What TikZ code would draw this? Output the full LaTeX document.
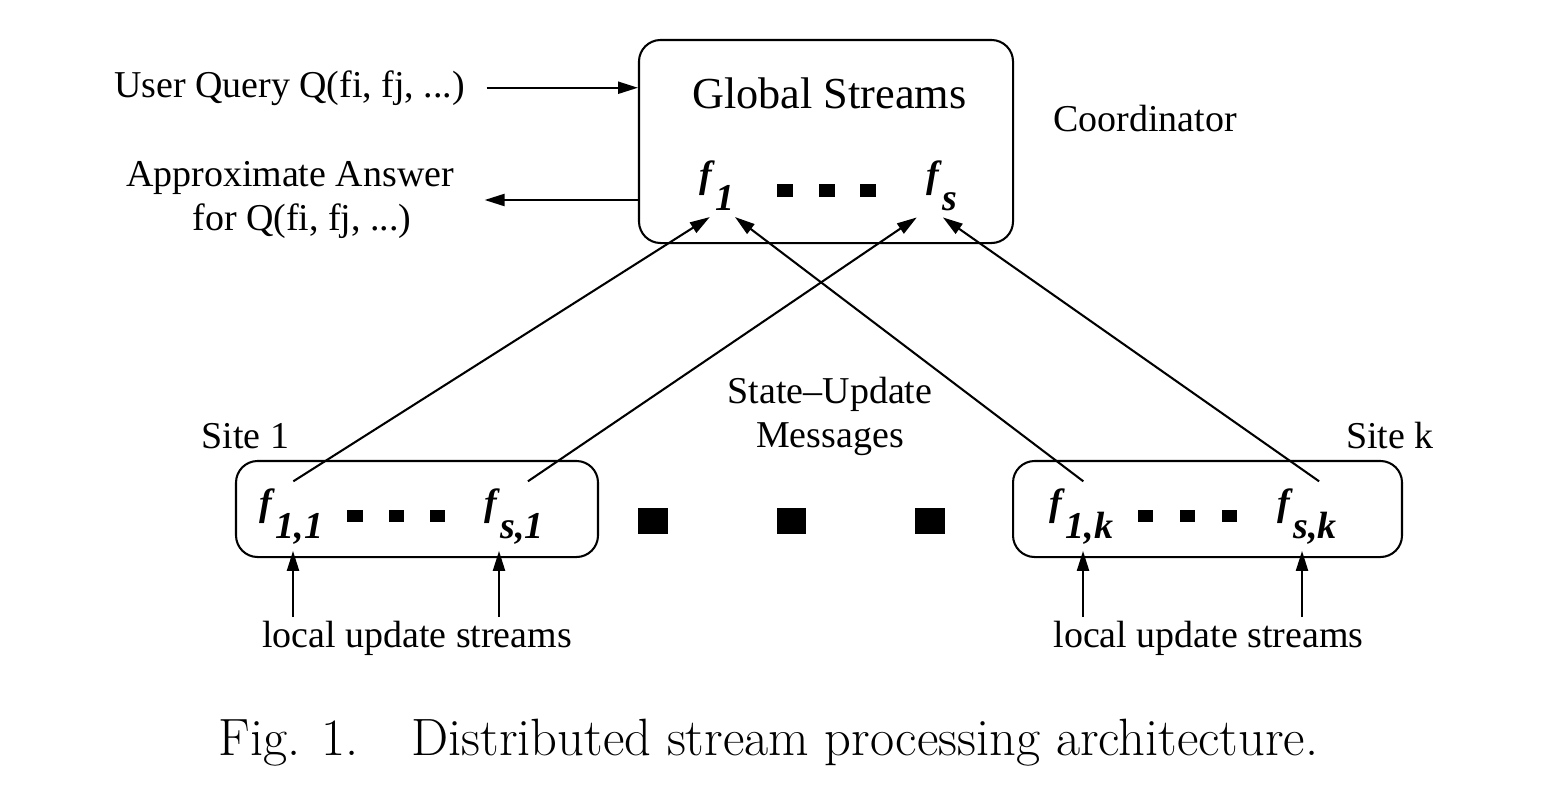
\documentclass[tikz,border=0pt]{standalone}
\usepackage{fontspec}
\newfontfamily\timesfont[Ligatures=TeX]{Liberation Serif}
\usetikzlibrary{arrows.meta}

\newcommand{\fsub}[1]{\textbf{\textit{f}}\raisebox{-7.3pt}{\textbf{\textit{#1}}}}

\tikzset{
  box/.style={draw, line width=0.65pt, rounded corners=2.4mm, inner sep=0pt},
  txt/.style={font=\timesfont\fontsize{12}{13.9}\selectfont, inner sep=0pt},
  flbl/.style={txt, inner sep=2pt, anchor=base},
  arr/.style={-{Triangle[length=6.3pt,width=3.8pt]}, line width=0.65pt},
  sdot/.style={fill, inner sep=0pt, minimum width=1.7mm, minimum height=1.3mm},
  bdot/.style={fill, inner sep=0pt, minimum width=3.3mm, minimum height=2.9mm}
}

\begin{document}
\begin{tikzpicture}[x=1.1111cm, y=1.1111cm]
    \useasboundingbox (0,0) rectangle (15.42,7.88);

    % coordinator and sites
    \node[box, minimum width=4.156cm, minimum height=2.256cm] (coord) at (8.26,6.465) {};
    \node[box, minimum width=4.022cm, minimum height=1.067cm] (site1) at (4.17,2.79) {};
    \node[box, minimum width=4.322cm, minimum height=1.067cm] (sitek) at (12.075,2.79) {};

    \node[txt, anchor=base, font=\timesfont\fontsize{14}{16}\selectfont] (glob) at (8.295,6.80) {Global Streams};
    \node[txt, anchor=base] (coordname) at (11.45,6.57) {Coordinator};
    \node[txt, anchor=base] (site1name) at (2.455,3.40) {Site 1};
    \node[txt, anchor=base] (sitekname) at (13.90,3.40) {Site k};
    \node[txt, align=center] (msg) at (8.30,3.72) {State--Update\\Messages};

    \node[flbl] (f1)  at (7.17,6.01)   {\fsub{1}};
    \node[flbl] (fs)  at (9.42,6.01)   {\fsub{s}};
    \node[flbl] (f11) at (2.915,2.73)  {\fsub{1,1}};
    \node[flbl] (fs1) at (5.144,2.73)  {\fsub{s,1}};
    \node[flbl] (f1k) at (10.815,2.73) {\fsub{1,k}};
    \node[flbl] (fsk) at (13.074,2.73) {\fsub{s,k}};

    \foreach \x [count=\i] in {7.85,8.27,8.68}
        \node[sdot, minimum width=1.8mm, minimum height=1.45mm] (cdot\i) at (\x,5.975) {};
    \foreach \x [count=\i] in {3.55,3.965,4.375}
        \node[sdot] (adot\i) at (\x,2.72) {};
    \foreach \x [count=\i] in {11.455,11.875,12.295}
        \node[sdot] (kdot\i) at (\x,2.72) {};
    \foreach \x [count=\i] in {6.53,7.915,9.30}
        \node[bdot] (sdot\i) at (\x,2.67) {};

    % query and answer
    \node[txt, anchor=base, inner xsep=6.6pt] (query) at (2.895,6.91) {User Query Q(fi, fj, ...)};
    \node[txt, align=center, inner xsep=9.5pt] (answer) at (2.90,5.88)
        {Approximate Answer\\\hspace*{7.6pt}for Q(fi, fj, ...)};
    \draw[arr] (query.east) -- (query.east -| coord.west);
    \draw[arr] (answer.east -| coord.west) -- (answer.east);

    % state-update messages
    \draw[arr] ([xshift=0.2mm]f11.north) -- ([xshift=-0.8mm]f1.south);
    \draw[arr] ([xshift=1.5mm]fs1.north) -- ([xshift=-2.8mm]fs.south);
    \draw[arr] ([xshift=0.2mm]f1k.north) -- ([xshift=2.0mm]f1.south);
    \draw[arr] ([xshift=1.3mm]fsk.north) -- ([xshift=0.1mm]fs.south);

    % local update streams
    \node[txt, anchor=base] (local1) at (4.17,1.41)   {local update streams};
    \node[txt, anchor=base] (localk) at (12.085,1.41) {local update streams};
    \coordinate (in11) at (2.93,1.71);
    \coordinate (ins1) at (4.99,1.71);
    \coordinate (in1k) at (10.83,1.71);
    \coordinate (insk) at (13.02,1.71);
    \draw[arr] (in11) -- (in11 |- f11.south);
    \draw[arr] (ins1) -- (ins1 |- fs1.south);
    \draw[arr] (in1k) -- (in1k |- f1k.south);
    \draw[arr] (insk) -- (insk |- fsk.south);

    \node[anchor=base, inner sep=0pt, font=\fontsize{16.6}{19}\selectfont] (caption) at (7.685,0.33)
        {Fig. 1.\quad Distributed stream processing architecture.};
\end{tikzpicture}
\end{document}
